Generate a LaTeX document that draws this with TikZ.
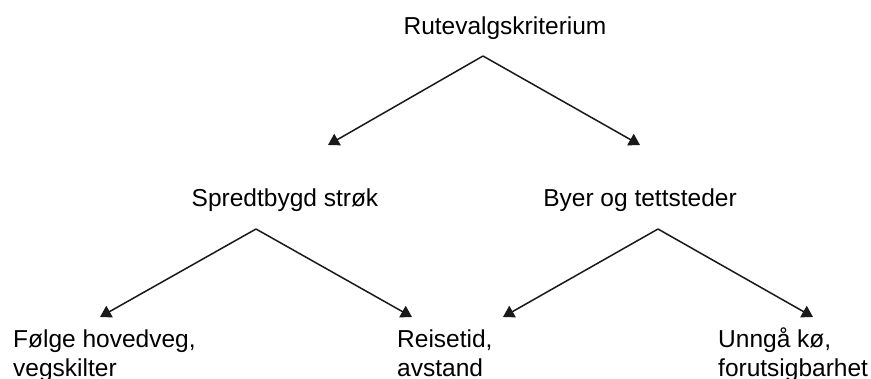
\documentclass[tikz,border=0pt]{standalone}
\usepackage{fontspec}
\setmainfont{Liberation Sans}
\usetikzlibrary{arrows.meta}

\begin{document}
\begin{tikzpicture}
          [x=1pt,y=-1pt,
           every node/.style={inner sep=0pt,font=\fontsize{24.5}{29}\selectfont},
           pil/.style={-{Triangle[length=11pt,width=13pt]},line width=1.5pt,black!90}]

          \useasboundingbox (0,0) rectangle (871,378);

          \node[anchor=base] (rute) at (505,34) {Rutevalgskriterium};
          \node[anchor=base] (spredt) at (285,206) {Spredtbygd strøk};
          \node[anchor=base] (byer) at (640,206) {Byer og tettsteder};
          % base = last line, so second baseline here
          \node[anchor=base west,align=left] (folge) at (13,376) {Følge hovedveg,\\vegskilter};
          \node[anchor=base west,align=left] (reise) at (397,376) {Reisetid,\\avstand};
          \node[anchor=base west,align=left] (unnga) at (718,376) {Unngå kø,\\forutsigbarhet};

          \coordinate (rute fork) at (483,56);
          \coordinate (spredt fork) at (256,229);
          \coordinate (byer fork) at (658,229);
          \coordinate (spredt tip) at (328,145);
          \coordinate (byer tip) at (640,145);
          \coordinate (folge tip) at (100,317);
          \coordinate (reise tip1) at (412,317);
          \coordinate (reise tip2) at (503,317);
          \coordinate (unnga tip) at (813,317);

          \draw[pil] (rute fork) -- (spredt tip);
          \draw[pil] (rute fork) -- (byer tip);
          \draw[pil] (spredt fork) -- (folge tip);
          \draw[pil] (spredt fork) -- (reise tip1);
          \draw[pil] (byer fork) -- (reise tip2);
          \draw[pil] (byer fork) -- (unnga tip);
        \end{tikzpicture}
\end{document}
